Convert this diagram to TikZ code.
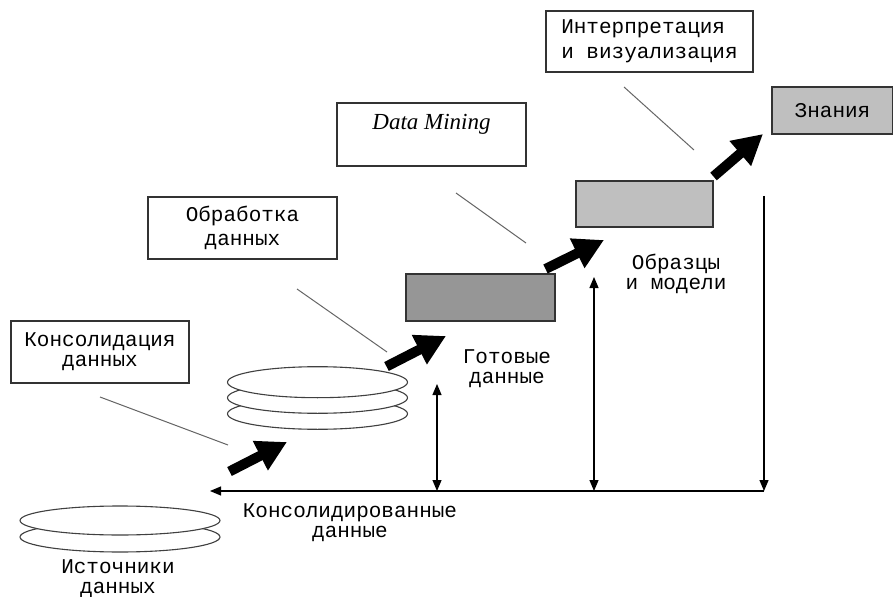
\documentclass[tikz,border=0pt]{standalone}
\usepackage{fontspec}
\setmainfont{Liberation Mono}
\newfontfamily\dmfont{Liberation Serif}
\usetikzlibrary{arrows.meta,shapes.geometric}
\begin{document}
\begin{tikzpicture}[x=1bp,y=-1bp,
  txt/.style={font=\fontsize{21bp}{20bp}\selectfont},
  lbl/.style={txt, align=center, inner sep=0pt},
  panel/.style={draw=black!80, line width=1.4bp, inner sep=0pt, outer sep=0pt, txt, align=center},
  leader/.style={draw=black!60, line width=1bp},
  flow/.style={line width=10bp, -{Triangle[length=30bp,width=31bp]}},
  tipp/.tip={Triangle[length=11bp,width=9bp]},
  dim/.style={line width=1.2bp},
  disc/.style={ellipse, draw=black!75, line width=1.1bp, fill=white, inner sep=0pt, outer sep=0pt}
]
\useasboundingbox (0,0) rectangle (893,597);

% data sources (two stacked disks)
\node[disc, minimum width=200bp, minimum height=30bp] (src2) at (120,537) {};
\node[disc, minimum width=200bp, minimum height=29bp] (src1) at (120,520.5) {};
\node[lbl] (srclbl) at (118,579) {Источники\\данных};

% consolidated store (three stacked disks)
\node[disc, minimum width=180bp, minimum height=31bp] (db3) at (317.5,413.8) {};
\node[disc, minimum width=180bp, minimum height=31bp] (db2) at (317.5,397.8) {};
\node[disc, minimum width=180bp, minimum height=31bp] (db1) at (317.5,382.2) {};

% stage boxes
\node[panel, minimum width=149bp, minimum height=47bp, fill=black!41] (ready) at (480.5,297.5) {};
\node[panel, minimum width=137bp, minimum height=46bp, fill=black!25] (models) at (644.5,204) {};
\node[panel, minimum width=121bp, minimum height=47bp, fill=black!25] (know) at (832.5,110.5) {Знания};

% captions under the stages
\node[lbl] (readylbl) at (507,369) {Готовые\\данные};
\node[lbl] (modelslbl) at (676,274) {Образцы\\и модели};
\node[lbl] (conslbl) at (350,523) {Консолидированные\\данные};

% process boxes
\node[panel, minimum width=178bp, minimum height=62bp] (cons) at (100,352) {Консолидация\\данных};
\node[panel, minimum width=189bp, minimum height=62bp, font=\fontsize{21bp}{24bp}\selectfont] (proc) at (242.5,228) {Обработка\\данных};
\node[panel, minimum width=189bp, minimum height=63bp] (dm) at (431.5,134.5) {};
\node[anchor=base, inner sep=0pt, font=\dmfont\itshape\fontsize{23bp}{26bp}\selectfont] (dmlbl) at (431.5,130) {Data Mining};
\node[panel, minimum width=207bp, minimum height=61bp, align=left, font=\fontsize{21bp}{25bp}\selectfont] (interp) at (649.5,41.5) {Интерпретация\\и визуализация};

% leader lines from the process boxes
\coordinate (l1a) at (100,397);  \coordinate (l1b) at (228,445);
\coordinate (l2a) at (297,289);  \coordinate (l2b) at (387,352);
\coordinate (l3a) at (456,193);  \coordinate (l3b) at (526,243);
\coordinate (l4a) at (624,87);   \coordinate (l4b) at (694,150);
\draw[leader] (l1a) -- (l1b);
\draw[leader] (l2a) -- (l2b);
\draw[leader] (l3a) -- (l3b);
\draw[leader] (l4a) -- (l4b);

% block arrows between the stages
\coordinate (f1a) at (229.5,471.5); \coordinate (f1b) at (287,442);
\coordinate (f2a) at (386.5,366.5); \coordinate (f2b) at (446,336);
\coordinate (f3a) at (545.5,269);   \coordinate (f3b) at (604,240);
\coordinate (f4a) at (713.5,176.5); \coordinate (f4b) at (763,134);
\draw[flow] (f1a) -- (f1b);
\draw[flow] (f2a) -- (f2b);
\draw[flow] (f3a) -- (f3b);
\draw[flow] (f4a) -- (f4b);

% feedback lines back to the consolidated store
\coordinate (top1) at (437,384);  \coordinate (base1) at (437,491);
\coordinate (top2) at (594,277);  \coordinate (base2) at (594,491);
\coordinate (top3) at (764,196);  \coordinate (base3) at (764,491);
\coordinate (hleft) at (210,491);
\draw[dim, -tipp] (base3) -- (hleft);
\draw[dim, tipp-tipp] (top1) -- (base1);
\draw[dim, tipp-tipp] (top2) -- (base2);
\draw[dim, -tipp] (top3) -- (base3);
\end{tikzpicture}
\end{document}
